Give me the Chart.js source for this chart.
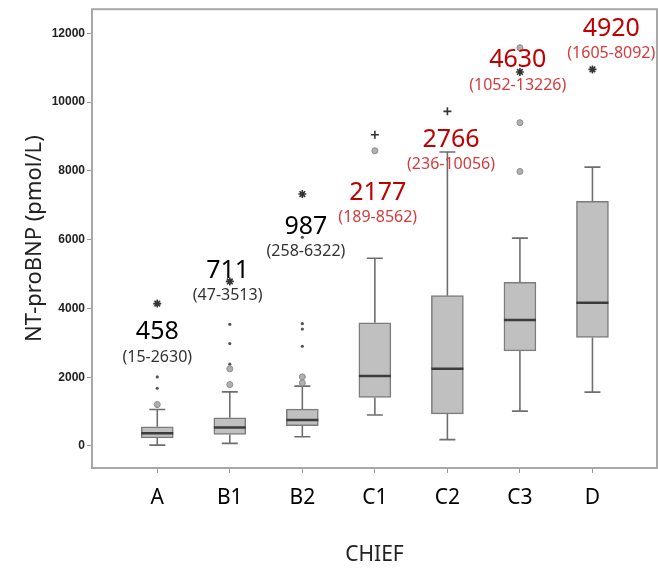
<!DOCTYPE html>
<html><head><meta charset="utf-8">
<script src="https://cdn.jsdelivr.net/npm/chart.js@4"></script>
<style>html,body{margin:0;padding:0;background:#fff}#wrap{width:658px;height:568px;position:relative}</style>
</head><body><div id="wrap"><canvas id="c"></canvas></div>
<script>
// ---- data ----
const categories = ['A', 'B1', 'B2', 'C1', 'C2', 'C3', 'D'];
const whiskerLow = [26, 75, 270, 899, 186, 1015, 1566];
const q1 = [238, 336, 589, 1412, 934, 2764, 3155];
const median = [374, 539, 754, 2035, 2248, 3660, 4167];
const q3 = [557, 818, 1073, 3581, 4370, 4759, 7114];
const whiskerHigh = [1061, 1572, 1740, 5460, 8546, 6044, 8108];
const outlierCircles = [[0, 1206], [1, 1786], [1, 2242], [2, 1835], [2, 2010], [3, 8584], [5, 7981], [5, 9402], [5, 11580]];
const outlierDots = [[0, 1150], [0, 1679], [0, 2007], [1, 2378], [1, 2978], [1, 3537], [2, 2900], [2, 3400], [2, 3557], [2, 6068]];
const outlierStars = [[0, 4140], [1, 4785], [2, 7326], [3, 9050], [4, 9730], [5, 10875], [6, 10950]];
const starStyles = ['star', 'star', 'star', 'cross', 'cross', 'star', 'star'];
const medianLabels = ['458', '711', '987', '2177', '2766', '4630', '4920'];
const rangeLabels = ['(15-2630)', '(47-3513)', '(258-6322)', '(189-8562)', '(236-10056)', '(1052-13226)', '(1605-8092)'];
const highlighted = [false, false, false, true, true, true, true];
const yTicks = [0, 2000, 4000, 6000, 8000, 10000, 12000];

// annotation placement (in axis units)
const labelAnchorY = [3315, 5101, 6377, 7363, 8900, 11220, 12135];
const labelShiftX = [0, -0.03, 0.05, 0.04, 0.05, -0.03, 0.26];

// ---- build datasets ----
const boxData = categories.map((c, i) => ({x: i, y: [q1[i], q3[i]]}));
const medData = categories.map((c, i) => ({x: i, y: median[i]}));
const whiskData = [];
const capData = [];
categories.forEach((c, i) => {
  whiskData.push({x: i, y: q3[i]}, {x: i, y: whiskerHigh[i]}, {x: i, y: null});
  whiskData.push({x: i, y: q1[i]}, {x: i, y: whiskerLow[i]}, {x: i, y: null});
  capData.push({x: i, y: whiskerHigh[i]}, {x: i, y: whiskerLow[i]});
});
const toPts = arr => arr.map(p => ({x: p[0], y: p[1]}));

const frame = {
  id: 'frame',
  beforeDatasetsDraw(chart) {
    const {ctx, chartArea: a} = chart;
    ctx.save();
    ctx.strokeStyle = '#a8a8a8';
    ctx.lineWidth = 2;
    ctx.strokeRect(a.left, a.top, a.right - a.left, a.bottom - a.top);
    ctx.restore();
  },
  afterDatasetsDraw(chart) {
    const {ctx, scales: {x, y}} = chart;
    ctx.save();
    ctx.textAlign = 'center';
    ctx.textBaseline = 'middle';
    categories.forEach((c, i) => {
      const px = x.getPixelForValue(i + labelShiftX[i]);
      const py = y.getPixelForValue(labelAnchorY[i]);
      ctx.font = '25px "Noto Sans"';
      ctx.fillStyle = highlighted[i] ? '#c00000' : '#000000';
      ctx.fillText(medianLabels[i], px, py);
      ctx.font = '16px "Noto Sans"';
      ctx.fillStyle = highlighted[i] ? '#d23c3c' : '#333333';
      ctx.fillText(rangeLabels[i], px, py + 25);
    });
    ctx.restore();
  }
};

new Chart(document.getElementById('c'), {
  type: 'bar',
  data: {
    datasets: [
      {type: 'scatter', data: medData, pointStyle: 'line', pointRadius: 16, pointHoverRadius: 16,
       borderColor: '#3c3c3c', pointBorderWidth: 2.5, borderWidth: 2.5, order: 0},
      {type: 'scatter', data: toPts(outlierStars), pointStyle: starStyles, pointRadius: 4, pointBorderWidth: 1.6,
       borderColor: '#333', backgroundColor: '#333', order: 0},
      {type: 'scatter', data: toPts(outlierCircles), pointStyle: 'circle', pointRadius: 3, pointBorderWidth: 1,
       borderColor: '#8c8c8c', backgroundColor: '#b0b0b0', order: 0},
      {type: 'scatter', data: toPts(outlierDots), pointStyle: 'circle', pointRadius: 1.6, pointBorderWidth: 0,
       borderColor: '#555', backgroundColor: '#555', order: 0},
      {type: 'scatter', data: capData, pointStyle: 'line', pointRadius: 8, pointBorderWidth: 1.6,
       borderColor: '#6e6e6e', order: 1},
      {type: 'bar', data: boxData, backgroundColor: '#c0c0c0', borderColor: '#7c7c7c', borderWidth: 1.5,
       borderSkipped: false, barThickness: 32, order: 2},
      {type: 'line', data: whiskData, borderColor: '#6e6e6e', borderWidth: 1.6, pointRadius: 0,
       spanGaps: false, fill: false, tension: 0, order: 3}
    ]
  },
  options: {
    responsive: true,
    maintainAspectRatio: false,
    animation: false,
    layout: {autoPadding: false, padding: {left: 22, top: 8, right: 1, bottom: 0}},
    plugins: {legend: {display: false}, tooltip: {enabled: false}},
    scales: {
      x: {
        type: 'linear', min: -0.9, max: 6.89, offset: false,
        afterBuildTicks: s => { s.ticks = categories.map((c, i) => ({value: i})); },
        afterFit: s => { s.height = 100; },
        ticks: {callback: v => categories[v], font: {family: 'Noto Sans', size: 21}, color: '#000', padding: 12, autoSkip: false, maxRotation: 0},
        grid: {offset: false, drawOnChartArea: false, drawTicks: true, tickLength: 5, color: '#999'},
        border: {display: false},
        title: {display: true, text: 'CHIEF', font: {family: 'Noto Sans', size: 21}, color: '#222', padding: {top: 0, bottom: 0}}
      },
      y: {
        min: -640, max: 12700,
        afterBuildTicks: s => { s.ticks = yTicks.map(v => ({value: v})); },
        afterFit: s => { s.width = 70; },
        ticks: {callback: v => String(v), font: {family: 'Liberation Sans', size: 12, weight: 'bold'}, color: '#222', padding: 2},
        grid: {drawOnChartArea: false, drawTicks: true, tickLength: 5, color: '#999'},
        border: {display: false},
        title: {display: true, text: 'NT-proBNP (pmol/L)', font: {family: 'Noto Sans', size: 22}, color: '#222', padding: 0}
      }
    }
  },
  plugins: [frame]
});
</script>
</body></html>
